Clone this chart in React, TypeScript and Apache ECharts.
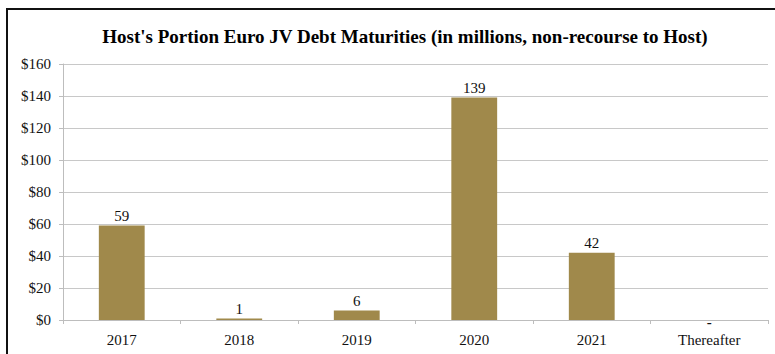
import React, { useEffect, useRef } from "react";
import * as echarts from "echarts";

const categories = ["2017", "2018", "2019", "2020", "2021", "Thereafter"];
const values = [59, 1, 6, 139, 42, 0];
const valueLabels = ["59", "1", "6", "139", "42", "-"];
const yTicks = [0, 20, 40, 60, 80, 100, 120, 140, 160];

const FONT = '"Liberation Serif", "Times New Roman", serif';

export default function App() {
  const ref = useRef<HTMLDivElement>(null);
  useEffect(() => {
    if (!ref.current) return;
    const chart = echarts.init(ref.current, undefined, { renderer: "svg" });
    chart.setOption({
      animation: false,
      backgroundColor: "#ffffff",
      title: {
        text: "Host's Portion Euro JV Debt Maturities (in millions, non-recourse to Host)",
        left: 400,
        textAlign: "center",
        top: 22,
        textStyle: { fontFamily: FONT, fontWeight: "bold", fontSize: 19, color: "#000" },
      },
      graphic: [
        {
          type: "rect",
          shape: { x: 7, y: 9, width: 790, height: 380 },
          style: { fill: "none", stroke: "#111", lineWidth: 2 },
          z: 100,
        },
      ],
      grid: { left: 63, right: 7, top: 64, bottom: 34 },
      xAxis: {
        type: "category",
        data: categories,
        boundaryGap: true,
        axisLine: { lineStyle: { color: "#bdbdbd", width: 1 } },
        axisTick: { show: true, length: 4, alignWithLabel: false, lineStyle: { color: "#bdbdbd" } },
        axisLabel: { fontFamily: FONT, fontSize: 15, color: "#111", margin: 12 },
      },
      yAxis: {
        type: "value",
        min: 0,
        max: yTicks[yTicks.length - 1],
        interval: 20,
        axisLine: { show: true, lineStyle: { color: "#bdbdbd", width: 1 } },
        axisTick: { show: true, length: 4, lineStyle: { color: "#bdbdbd" } },
        splitLine: { lineStyle: { color: "#c8c8c8", width: 1 } },
        axisLabel: {
          fontFamily: FONT,
          fontSize: 15,
          color: "#111",
          margin: 12,
          formatter: (v: number) => "$" + v,
        },
      },
      series: [
        {
          type: "bar",
          data: values.map((v, i) =>
            i === values.length - 1
              ? { value: v, label: { offset: [0, 11], fontSize: 15, fontWeight: "bold" } }
              : { value: v }
          ),
          barWidth: "39%",
          itemStyle: { color: "#a0894b" },
          label: {
            show: true,
            position: "top",
            distance: 2,
            fontFamily: FONT,
            fontSize: 15,
            color: "#111",
            formatter: (p: any) => valueLabels[p.dataIndex],
          },
        },
      ],
    });
    return () => chart.dispose();
  }, []);
  return (
    <div
      ref={ref}
      style={{ position: "fixed", left: 0, top: 0, width: 775, height: 354 }}
    />
  );
}
